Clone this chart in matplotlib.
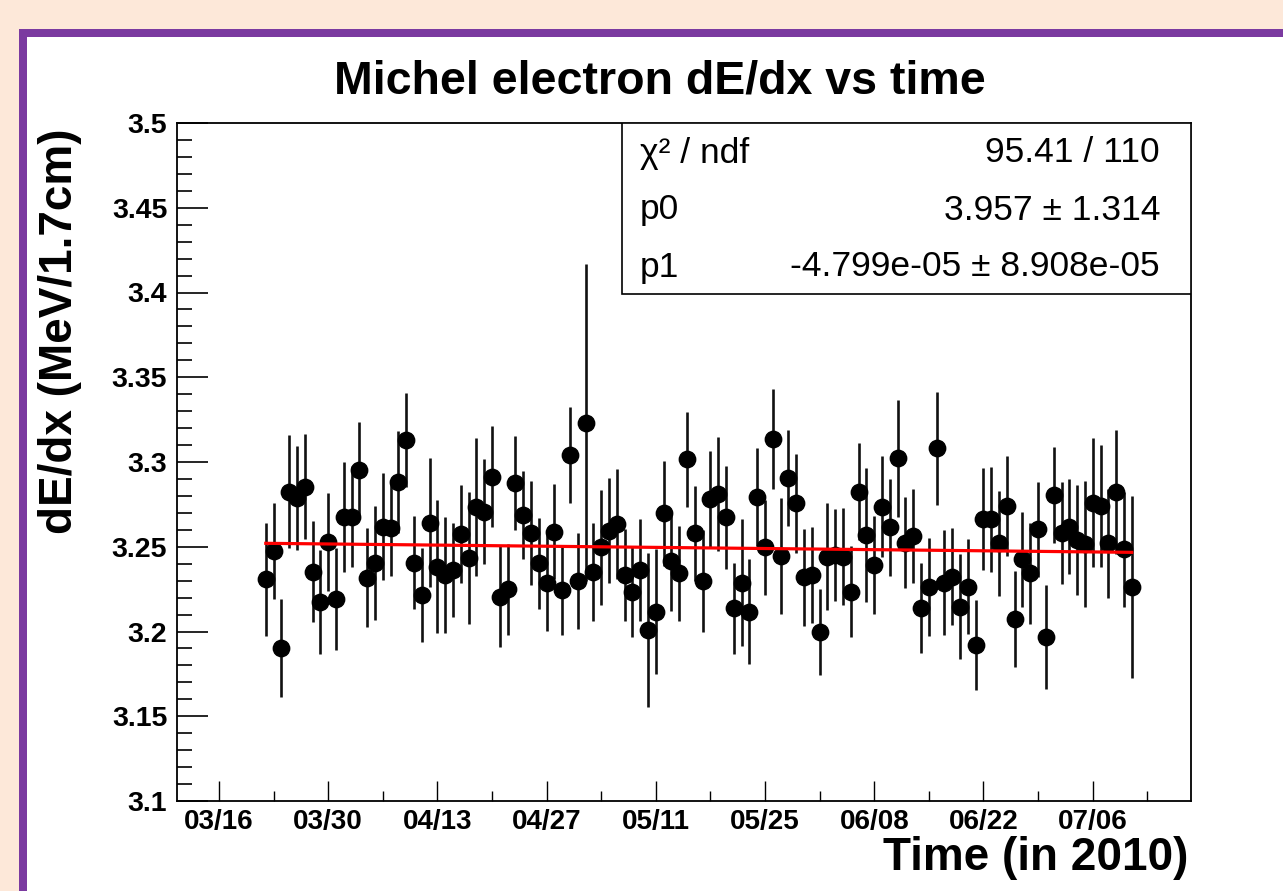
import numpy as np
import pandas as pd
import matplotlib
matplotlib.use("Agg")
import matplotlib.pyplot as plt
from matplotlib.patches import Rectangle
from matplotlib.ticker import FixedLocator, MultipleLocator

plt.rcParams['font.family'] = ['Liberation Sans', 'DejaVu Sans']

# ---------------- data ----------------
start_date = "2010-03-22"
dedx = [3.2308, 3.2477, 3.1901, 3.2825, 3.2786, 3.2855, 3.2353, 3.2176, 3.2530, 3.2190,
        3.2677, 3.2677, 3.2953, 3.2318, 3.2406, 3.2618, 3.2609, 3.2880, 3.3130, 3.2406,
        3.2215, 3.2642, 3.2383, 3.2333, 3.2363, 3.2575, 3.2432, 3.2736, 3.2707, 3.2913,
        3.2206, 3.2249, 3.2878, 3.2687, 3.2583, 3.2402, 3.2289, 3.2589, 3.2245, 3.3041,
        3.2300, 3.3232, 3.2353, 3.2496, 3.2595, 3.2634, 3.2333, 3.2235, 3.2363, 3.2009,
        3.2117, 3.2697, 3.2418, 3.2343, 3.3016, 3.2579, 3.2300, 3.2780, 3.2811, 3.2674,
        3.2137, 3.2289, 3.2117, 3.2792, 3.2496, 3.3134, 3.2445, 3.2904, 3.2756, 3.2320,
        3.2333, 3.1999, 3.2442, 3.2451, 3.2442, 3.2235, 3.2825, 3.2569, 3.2392, 3.2736,
        3.2615, 3.3022, 3.2524, 3.2563, 3.2137, 3.2264, 3.3081, 3.2289, 3.2324, 3.2147,
        3.2264, 3.1920, 3.2662, 3.2662, 3.2520, 3.2740, 3.2074, 3.2426, 3.2343, 3.2603,
        3.1966, 3.2805, 3.2583, 3.2618, 3.2540, 3.2516, 3.2760, 3.2740, 3.2520, 3.2825,
        3.2485, 3.2264]
dedx_err = [0.0332, 0.0283, 0.0290, 0.0332, 0.0308, 0.0310, 0.0297, 0.0307, 0.0290, 0.0300,
            0.0324, 0.0299, 0.0285, 0.0290, 0.0337, 0.0315, 0.0280, 0.0300, 0.0276, 0.0275,
            0.0275, 0.0380, 0.0390, 0.0340, 0.0280, 0.0290, 0.0390, 0.0406, 0.0310, 0.0297,
            0.0298, 0.0270, 0.0277, 0.0260, 0.0307, 0.0270, 0.0287, 0.0280, 0.0265, 0.0283,
            0.0283, 0.0936, 0.0290, 0.0340, 0.0310, 0.0324, 0.0270, 0.0270, 0.0300, 0.0454,
            0.0369, 0.0310, 0.0300, 0.0280, 0.0280, 0.0280, 0.0300, 0.0287, 0.0336, 0.0305,
            0.0270, 0.0377, 0.0310, 0.0290, 0.0280, 0.0295, 0.0344, 0.0284, 0.0290, 0.0285,
            0.0285, 0.0253, 0.0315, 0.0270, 0.0285, 0.0270, 0.0288, 0.0395, 0.0288, 0.0298,
            0.0285, 0.0344, 0.0270, 0.0275, 0.0265, 0.0290, 0.0334, 0.0310, 0.0285, 0.0310,
            0.0280, 0.0267, 0.0300, 0.0310, 0.0310, 0.0295, 0.0285, 0.0280, 0.0300, 0.0280,
            0.0307, 0.0285, 0.0300, 0.0280, 0.0327, 0.0374, 0.0380, 0.0360, 0.0320, 0.0366,
            0.0340, 0.0538]
tick_dates = ["2010-03-16", "2010-03-30", "2010-04-13", "2010-04-27", "2010-05-11",
              "2010-05-25", "2010-06-08", "2010-06-22", "2010-07-06"]
tick_labels = ["03/16", "03/30", "04/13", "04/27", "05/11", "05/25", "06/08", "06/22", "07/06"]
yticks = [3.1, 3.15, 3.2, 3.25, 3.3, 3.35, 3.4, 3.45, 3.5]
ytick_labels = ["3.1", "3.15", "3.2", "3.25", "3.3", "3.35", "3.4", "3.45", "3.5"]
p0, p0_err = 3.957, 1.314
p1, p1_err = -4.799e-05, 8.908e-05
chi2, ndf = 95.41, 110

# days since epoch
epoch = pd.Timestamp("1970-01-01")
def days(d):
    return (pd.Timestamp(d) - epoch).days

x0 = days(start_date)
x = x0 + np.arange(len(dedx))
tick_pos = [days(d) for d in tick_dates]

# ---------------- figure ----------------
W, H = 1283, 891
fig = plt.figure(figsize=(W / 100, H / 100), dpi=100)
fig.patch.set_facecolor('#FDE8D9')

# purple frame with white inside
frame = Rectangle((23 / W, -0.2), 1.2, (H - 33) / H + 0.2, transform=fig.transFigure,
                  facecolor='white', edgecolor='#7B3AA0', linewidth=8 * 0.72, zorder=0)
fig.add_artist(frame)

L, R, T, B = 177, 1191, 123, 801
ax = fig.add_axes([L / W, (H - B) / H, (R - L) / W, (B - T) / H])
ax.set_facecolor('white')

ax.errorbar(x, dedx, yerr=dedx_err, fmt='o', color='black', ecolor='#111111',
            markersize=11.8, elinewidth=1.9, capsize=0, zorder=3)

xf = np.array([x[0], x[-1]])
ax.plot(xf, p0 + p1 * xf, color='#FF0000', linewidth=2.3, zorder=4)

ax.set_ylim(3.1, 3.5)
ax.set_xlim(tick_pos[0] - 5.38, tick_pos[0] + 124.6)

ax.yaxis.set_major_locator(FixedLocator(yticks))
ax.set_yticklabels(ytick_labels)
ax.yaxis.set_minor_locator(MultipleLocator(0.01))
ax.xaxis.set_major_locator(FixedLocator(tick_pos))
ax.set_xticklabels(tick_labels)
minor_x = [p + 7 for p in tick_pos]
ax.xaxis.set_minor_locator(FixedLocator(minor_x))

ax.tick_params(axis='y', which='major', direction='in', length=22.5, width=1.2, pad=7,
               labelsize=20.5)
ax.tick_params(axis='y', which='minor', direction='in', length=11, width=1.2)
ax.tick_params(axis='x', which='major', direction='in', length=14.5, width=1.0, pad=6,
               labelsize=20)
ax.tick_params(axis='x', which='minor', direction='in', length=7.5, width=1.0)
for lab in ax.get_xticklabels() + ax.get_yticklabels():
    lab.set_fontweight('bold')
for s in ax.spines.values():
    s.set_linewidth(1.3)

# stats box
bx0 = (622 - L) / (R - L)
by0 = (B - 294) / (B - T)
ax.add_patch(Rectangle((bx0, by0), 1 - bx0, 1 - by0, transform=ax.transAxes,
                       facecolor='white', edgecolor='black', linewidth=1.2, zorder=5))

rows = [("χ² / ndf", f"{chi2:.2f} / {ndf}"),
        ("p0", f"{p0:.3f} ± {p0_err:.3f}"),
        ("p1", f"{p1:.3e} ± {p1_err:.3e}")]
row_y = [153, 210, 267]
for (lt, rt), yy in zip(rows, row_y):
    ya = (B - yy) / (B - T)
    ax.text((640 - L) / (R - L), ya, lt, transform=ax.transAxes, fontsize=25.5,
            ha='left', va='center', zorder=6)
    ax.text((1160 - L) / (R - L), ya, rt, transform=ax.transAxes, fontsize=25.5,
            ha='right', va='center', zorder=6)

# titles
fig.text(660 / W, 1 - 82 / H, "Michel electron dE/dx vs time", fontsize=33.5,
         fontweight='bold', ha='center', va='center')
fig.text(1188 / W, 1 - 858 / H, "Time (in 2010)", fontsize=33, fontweight='bold',
         ha='right', va='center')
fig.text(60 / W, 1 - 331 / H, "dE/dx (MeV/1.7cm)", fontsize=33, fontweight='bold',
         ha='center', va='center', rotation=90)

fig.savefig("out.png", dpi=100, facecolor=fig.get_facecolor())
